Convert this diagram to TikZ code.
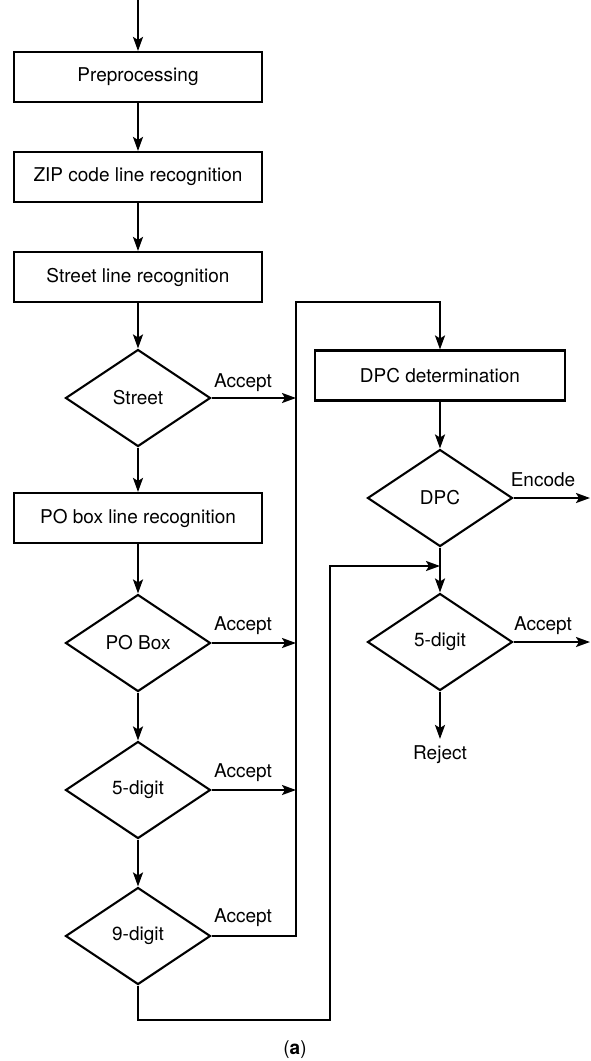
\documentclass[tikz,border=0pt]{standalone}
\usepackage{fontspec}
\setmainfont{TeX Gyre Heros}
\usetikzlibrary{shapes.geometric,arrows.meta}

\begin{document}
\begin{tikzpicture}[x=1pt,y=-1pt,
  font=\fontsize{19}{22}\selectfont,
  line width=2.1pt,
  flow/.style={-{Stealth[length=14pt,width=10pt,inset=3pt]}},
  procbox/.style={draw,minimum width=248pt,minimum height=50pt,inner sep=0pt},
  decision/.style={draw,diamond,minimum width=145pt,minimum height=97pt,inner sep=0pt},
  lbl/.style={inner sep=0pt}]

\useasboundingbox (0,0) rectangle (590,1061);

% left column
\coordinate (start) at (138,0);
\node[procbox] (pre) at (138,77) {Preprocessing};
\node[procbox] (zip) at (138,177) {ZIP code line recognition};
\node[procbox] (stl) at (138,277) {Street line recognition};
\node[decision] (street) at (138,398) {Street};
\node[procbox] (pob) at (138,518) {PO box line recognition};
\node[decision] (pobd) at (138,643) {PO Box};
\node[decision] (fivea) at (138,790) {5-digit};
\node[decision] (nine) at (138,936) {9-digit};

% right column
\node[procbox,minimum width=250pt] (dpc) at (440,375.5) {DPC determination};
\node[decision] (dpcd) at (440,498) {DPC};
\node[decision] (fiveb) at (440,642) {5-digit};
\node[lbl] (reject) at (440,755) {Reject};

% collecting bus and loop points
\coordinate (busA) at (296,398);
\coordinate (busB) at (296,643);
\coordinate (busC) at (296,790);
\coordinate (busD) at (296,936);
\coordinate (busTop) at (296,302);
\coordinate (dpcTop) at (440,302);
\coordinate (loopA) at (138,1020);
\coordinate (loopB) at (330,1020);
\coordinate (loopC) at (330,566);
\coordinate (loopEnd) at (440,566);
\coordinate (encOut) at (590,498);
\coordinate (accOut) at (590,642);

% main flow
\draw[flow] (start) -- (pre);
\draw[flow] (pre) -- (zip);
\draw[flow] (zip) -- (stl);
\draw[flow] (stl) -- (street);
\draw[flow] (street) -- (pob);
\draw[flow] (pob) -- (pobd);
\draw[flow] (pobd) -- (fivea);
\draw[flow] (fivea) -- (nine);

% accept branches
\draw[flow] (street.east) -- (busA);
\draw[flow] (pobd.east) -- (busB);
\draw[flow] (fivea.east) -- (busC);
\draw[flow] (nine.east) -- (busD) -- (busTop) -- (dpcTop) -- (dpc.north);
\node[lbl] (acc1) at (243,383) {Accept};
\node[lbl] (acc2) at (243,626) {Accept};
\node[lbl] (acc3) at (243,773) {Accept};
\node[lbl] (acc4) at (243,918) {Accept};

% right column flow
\draw[flow] (dpc) -- (dpcd);
\draw[flow] (dpcd.east) -- (encOut);
\node[lbl] (enc) at (543,480) {Encode};
\draw[flow] (dpcd.south) -- (fiveb.north);
\draw[flow] (nine.south) -- (loopA) -- (loopB) -- (loopC) -- (loopEnd);
\draw[flow] (fiveb.east) -- (accOut);
\node[lbl] (acc5) at (543,626) {Accept};
\draw[flow,shorten >=6pt] (fiveb.south) -- (reject.north);

\node[lbl] (cap) at (295,1050) {(\textbf{a})};
\end{tikzpicture}
\end{document}
